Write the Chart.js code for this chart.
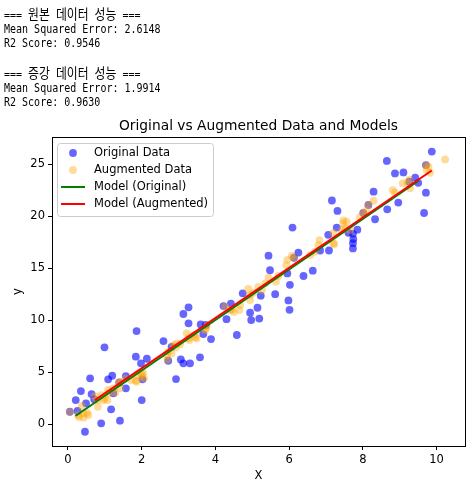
<!DOCTYPE html>
<html>
<head>
<meta charset="utf-8">
<script src="https://cdn.jsdelivr.net/npm/chart.js@4.4.1/dist/chart.umd.min.js"></script>
<style>
  html, body { margin: 0; padding: 0; background: #fff; }
  #wrap { position: relative; width: 472px; height: 480px; }
  #log {
    position: absolute; left: 4px; top: 6px; margin: 0;
    font: 11.5px "DejaVu Sans Mono", "Noto Sans CJK KR", monospace;
    line-height: 14.2px; color: #000;
    transform: scaleX(0.87); transform-origin: 0 0;
  }
  #log .ko { font-family: "Noto Sans CJK KR", sans-serif; font-size: 13.6px; line-height: 14.2px; }
  canvas { position: absolute; left: 0; top: 0; }
</style>
</head>
<body>
<div id="wrap">
  <canvas id="chart" width="472" height="480"></canvas>
  <pre id="log">=== <span class="ko">원본</span> <span class="ko">데이터</span> <span class="ko">성능</span> ===
Mean Squared Error: 2.6148
R2 Score: 0.9546

=== <span class="ko">증강</span> <span class="ko">데이터</span> <span class="ko">성능</span> ===
Mean Squared Error: 1.9914
R2 Score: 0.9630</pre>
</div>
<script>
// values
const origX = [0.05,0.21,0.26,0.35,0.46,0.49,0.60,0.64,0.71,0.90,0.99,1.09,1.17,1.20,1.23,1.39,1.41,1.57,1.57,1.84,1.86,1.98,2.00,2.02,2.14,2.59,2.72,2.81,2.93,3.06,3.13,3.13,3.27,3.27,3.31,3.58,3.60,3.67,3.74,3.88,4.22,4.30,4.42,4.58,4.74,4.94,4.97,5.14,5.19,5.23,5.44,5.48,5.62,5.95,5.98,6.01,6.02,6.09,6.13,6.25,6.39,6.64,6.84,7.06,7.08,7.16,7.29,7.31,7.61,7.73,7.74,7.73,7.73,7.85,8.01,8.15,8.29,8.33,8.65,8.66,8.87,8.96,9.10,9.26,9.42,9.50,9.66,9.71,9.71,9.87];
const origY = [1.21,2.33,1.28,3.20,-0.71,2.02,4.42,2.91,2.40,0.10,7.40,4.32,1.44,4.67,2.98,4.03,0.35,4.64,3.46,6.50,8.96,5.86,2.33,4.32,6.30,8.00,6.11,7.45,4.35,6.24,5.86,10.60,11.24,9.70,5.86,6.44,9.60,8.67,9.54,8.19,11.36,10.10,11.60,8.58,12.58,10.72,10.02,11.20,10.16,12.36,16.20,14.80,12.50,14.50,11.90,11.00,13.40,18.90,16.00,16.50,14.25,14.76,16.70,18.20,16.70,21.50,18.90,20.50,18.40,18.30,17.80,17.40,16.90,18.70,20.30,21.07,22.35,19.70,25.30,20.65,24.10,21.30,24.20,23.30,23.70,23.20,20.30,24.90,22.25,26.20];

const augX = [0.05,0.28,0.30,0.37,0.42,0.42,0.51,0.55,0.73,0.80,0.81,0.90,0.96,0.99,1.07,1.09,1.09,1.23,1.28,1.39,1.41,1.41,1.55,1.71,1.84,1.86,1.88,2.00,2.00,2.04,2.06,2.68,2.70,2.72,2.81,2.86,2.93,2.95,3.04,3.22,3.27,3.29,3.42,3.45,3.49,3.72,3.74,3.76,4.26,4.40,4.44,4.50,4.65,4.67,4.89,4.94,4.94,5.03,5.16,5.26,5.35,5.44,5.64,5.71,5.92,5.95,6.07,6.13,6.57,6.70,6.79,6.82,7.20,7.20,7.22,7.43,7.47,7.47,7.52,7.56,7.65,7.92,8.01,8.09,8.15,8.29,8.81,8.87,9.08,9.21,9.26,9.28,9.71,9.73,9.78,9.82,10.23];
const augY = [1.20,0.90,0.70,1.76,0.64,1.05,1.10,0.90,2.72,2.33,1.70,2.80,2.33,2.50,2.33,2.98,3.30,3.46,3.04,4.00,3.46,4.00,4.40,4.26,4.20,4.10,4.74,4.64,4.83,4.96,4.42,6.66,6.20,6.97,6.82,7.60,7.40,7.78,7.70,8.74,8.26,8.10,8.60,8.36,8.26,9.06,9.20,9.44,11.30,10.98,11.00,10.80,10.98,11.46,13.00,12.42,11.94,12.64,13.20,12.90,13.55,14.10,13.70,14.25,15.30,15.80,16.17,16.00,16.26,16.58,17.20,17.70,17.40,18.40,17.30,18.66,19.30,19.60,18.83,19.46,18.66,19.90,20.30,20.52,21.07,21.48,22.50,22.25,23.15,23.15,23.50,22.67,24.90,24.43,24.75,24.17,25.45];

// fitted model lines (end points as seen in the picture)
const modelOrigX = [0.20, 9.51];
const modelOrigY = [0.80, 23.40];
const modelAugX = [0.73, 9.87];
const modelAugY = [2.33, 24.38];

const xTicks = [0, 2, 4, 6, 8, 10];
const yTicks = [0, 5, 10, 15, 20, 25];

const toPoints = (xs, ys) => xs.map((x, i) => ({ x: x, y: ys[i] }));

const FONT = 'DejaVu Sans';

// frame around the plot area, like matplotlib spines
const framePlugin = {
  id: 'frame',
  afterDraw(chart) {
    const { ctx, chartArea: a } = chart;
    ctx.save();
    ctx.strokeStyle = '#000';
    ctx.lineWidth = 1;
    ctx.strokeRect(Math.round(a.left) + 0.5, Math.round(a.top) + 0.5,
      Math.round(a.right - a.left), Math.round(a.bottom - a.top));
    ctx.restore();
  }
};

// title centred over the plot area
const axTitlePlugin = {
  id: 'axTitle',
  afterDraw(chart) {
    const { ctx, chartArea: a } = chart;
    ctx.save();
    ctx.fillStyle = '#000';
    ctx.font = '13.8px "' + FONT + '"';
    ctx.textAlign = 'center';
    ctx.textBaseline = 'alphabetic';
    ctx.fillText('Original vs Augmented Data and Models', (a.left + a.right) / 2, a.top - 7);
    ctx.restore();
  }
};

// legend box in the upper left corner of the plot
const innerLegend = {
  id: 'innerLegend',
  afterDraw(chart) {
    const { ctx, chartArea: a } = chart;
    const sets = chart.data.datasets;
    const bx = a.left + 5, by = a.top + 6, bw = 156, bh = 73;
    ctx.save();
    ctx.beginPath();
    ctx.roundRect(bx + 0.5, by + 0.5, bw, bh, 3);
    ctx.fillStyle = 'rgba(255,255,255,0.8)';
    ctx.fill();
    ctx.strokeStyle = '#cccccc';
    ctx.lineWidth = 1;
    ctx.stroke();

    ctx.font = '11.5px "' + FONT + '"';
    ctx.textBaseline = 'middle';
    sets.forEach((ds, i) => {
      const y = by + 10 + i * 17;
      if (ds.showLine) {
        ctx.strokeStyle = ds.borderColor;
        ctx.lineWidth = ds.borderWidth;
        ctx.beginPath();
        ctx.moveTo(bx + 4, y);
        ctx.lineTo(bx + 28, y);
        ctx.stroke();
      } else {
        ctx.fillStyle = ds.backgroundColor;
        ctx.beginPath();
        ctx.arc(bx + 16, y, ds.pointRadius, 0, Math.PI * 2);
        ctx.fill();
      }
      ctx.fillStyle = '#000';
      ctx.fillText(ds.label, bx + 37, y + 0.5);
    });
    ctx.restore();
  }
};

new Chart(document.getElementById('chart'), {
  type: 'scatter',
  data: {
    datasets: [
      {
        label: 'Original Data',
        data: toPoints(origX, origY),
        backgroundColor: 'rgba(0,0,255,0.6)',
        borderWidth: 0,
        pointRadius: 3.9,
        order: 4
      },
      {
        label: 'Augmented Data',
        data: toPoints(augX, augY),
        backgroundColor: 'rgba(255,165,0,0.4)',
        borderWidth: 0,
        pointRadius: 3.9,
        order: 3
      },
      {
        label: 'Model (Original)',
        data: toPoints(modelOrigX, modelOrigY),
        showLine: true,
        borderColor: '#008000',
        borderWidth: 2,
        pointRadius: 0,
        order: 2
      },
      {
        label: 'Model (Augmented)',
        data: toPoints(modelAugX, modelAugY),
        showLine: true,
        borderColor: '#ff0000',
        borderWidth: 2,
        pointRadius: 0,
        order: 1
      }
    ]
  },
  options: {
    responsive: false,
    animation: false,
    layout: { padding: { top: 137, right: 7, left: 0, bottom: 0 } },
    plugins: {
      legend: { display: false },
      title: { display: false },
      tooltip: { enabled: false }
    },
    scales: {
      x: {
        type: 'linear',
        min: -0.434,
        max: 10.77,
        afterBuildTicks: (s) => { s.ticks = xTicks.map(v => ({ value: v })); },
        afterFit: (s) => { s.height = 34; },
        border: { display: false },
        grid: { drawOnChartArea: false, drawTicks: true, tickLength: 4, color: '#000' },
        ticks: { color: '#000', font: { family: FONT, size: 11.5 }, padding: 3, maxRotation: 0 },
        title: { display: true, text: 'X', color: '#000', font: { family: FONT, size: 11.5 }, padding: { top: 5, bottom: -3 } }
      },
      y: {
        type: 'linear',
        min: -2.08,
        max: 27.6,
        afterBuildTicks: (s) => { s.ticks = yTicks.map(v => ({ value: v })); },
        afterFit: (s) => { s.width = 52; },
        border: { display: false },
        grid: { drawOnChartArea: false, drawTicks: true, tickLength: 4, color: '#000' },
        ticks: { color: '#000', font: { family: FONT, size: 11.5 }, padding: 3 },
        title: { display: true, text: 'y', color: '#000', font: { family: FONT, size: 11.5 }, padding: { top: 11, bottom: 8 } }
      }
    }
  },
  plugins: [framePlugin, axTitlePlugin, innerLegend]
});
</script>
</body>
</html>
